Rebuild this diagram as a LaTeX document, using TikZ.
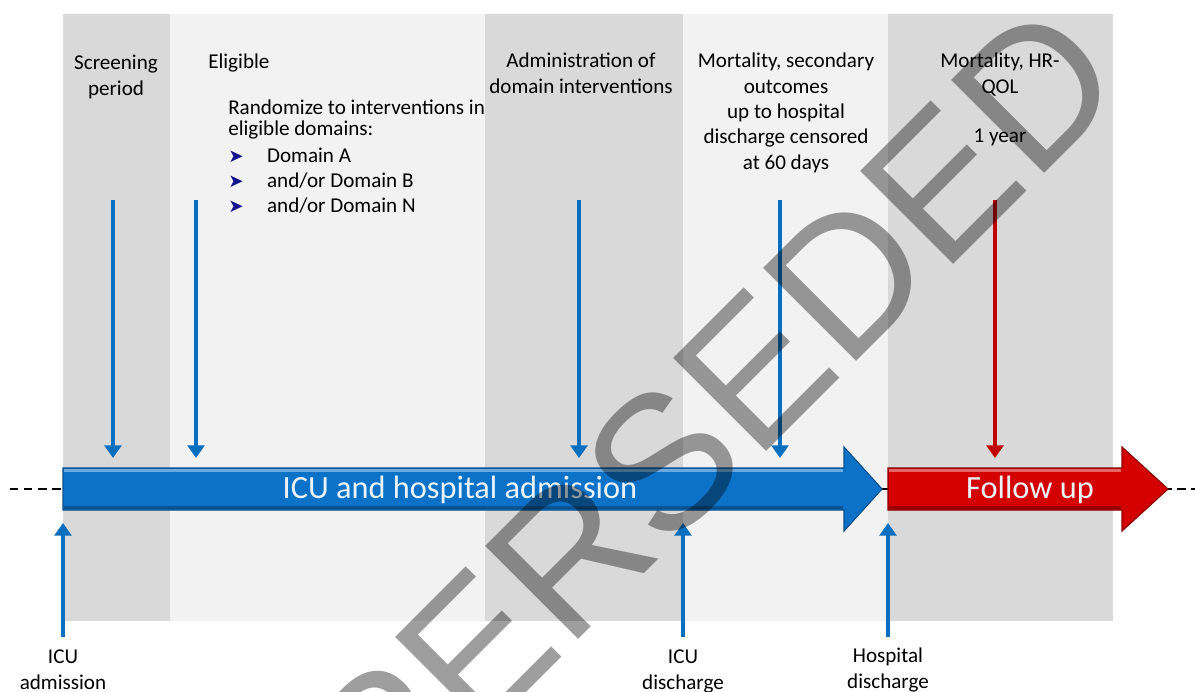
\documentclass[tikz,border=0pt]{standalone}
\usepackage{fontspec}
\setmainfont{Carlito}
\newfontfamily\symfont{DejaVu Sans}
\newfontfamily\wmfont{Liberation Sans}
\usetikzlibrary{arrows.meta}

\definecolor{paneldark}{HTML}{D9D9D9}
\definecolor{panellight}{HTML}{F2F2F2}
\definecolor{icublue}{HTML}{0A6FBE}
\definecolor{barblue}{HTML}{0C72C8}
\definecolor{fured}{HTML}{C00000}
\definecolor{barred}{HTML}{D40000}
\definecolor{navy}{HTML}{12128C}
\definecolor{bartext}{HTML}{EAF3FB}
\newcommand\dombullet{{\symfont\color{navy}\fontsize{13}{13}\selectfont ➤}}

\begin{document}
\begin{tikzpicture}[x=0.025cm,y=-0.025cm,
    lbl/.style={font=\fontsize{15}{18}\selectfont, align=center, inner sep=0pt},
    pointer/.style={line width=2.5pt, -{Triangle[width=12pt,length=9pt]}, icublue},
    bartitle/.style={font=\fontsize{23}{23}\selectfont, text=bartext, inner sep=0pt, anchor=base}]
        \useasboundingbox (0,0) rectangle (1195,691);
        \fill[white] (0,0) rectangle (1195,691);

        % phases
        \fill[paneldark] (63,14) rectangle (170,621);
        \fill[panellight] (170,14) rectangle (485,621);
        \fill[paneldark] (485,14) rectangle (683,621);
        \fill[panellight] (683,14) rectangle (888,621);
        \fill[paneldark] (888,14) rectangle (1113,621);

        \draw[line width=1.2pt, dash pattern=on 6pt off 4pt] (10,489) -- (1195,489);

        % the two big arrows
        \fill[barblue, draw=barblue!70!black, line width=0.8pt]
          (63,468) -- (844,468) -- (844,447) -- (882,489) -- (844,531) -- (844,510) -- (63,510) -- cycle;
        \draw[white, opacity=0.4, line width=1.5pt] (64,470.5) -- (843,470.5);
        \draw[barblue!55!black, opacity=0.6, line width=1.5pt] (64,507.5) -- (843,507.5);
        \fill[barred, draw=barred!65!black, line width=0.8pt]
          (888,468) -- (1122,468) -- (1122,447) -- (1168,489) -- (1122,531) -- (1122,510) -- (888,510) -- cycle;
        \draw[white, opacity=0.4, line width=1.5pt] (889,470.5) -- (1121,470.5);
        \draw[barred!55!black, opacity=0.6, line width=1.5pt] (889,507.5) -- (1121,507.5);
        \node[bartitle] (stay) at (460,498) {ICU and hospital admission};
        \node[bartitle] (follow) at (1030,498) {Follow up};

        % labels above
        \node[lbl, anchor=north] (screen) at (116,55) {Screening\\period};
        \node[lbl, anchor=base west] (elig) at (208,68) {Eligible};
        \node[lbl, align=left, anchor=north west, font=\fontsize{15}{14.5}\selectfont] (rand) at (228,100) {Randomize to interventions in\\eligible domains:};
        \node[lbl, anchor=base west] (doma) at (228,162) {\makebox[27.6pt][l]{\dombullet}Domain A};
        \node[lbl, anchor=base west] (domb) at (228,187) {\makebox[27.6pt][l]{\dombullet}and/or Domain B};
        \node[lbl, anchor=base west] (domn) at (228,212) {\makebox[27.6pt][l]{\dombullet}and/or Domain N};
        \node[lbl, anchor=north] (admin) at (581,53) {Administration of\\domain interventions};
        \node[lbl, anchor=north] (mort) at (786,53) {Mortality, secondary\\outcomes\\up to hospital\\discharge censored\\at 60 days};
        \node[lbl, anchor=north] (hrqol) at (1000,53) {Mortality, HR-\\QOL\\[17pt]1 year};

        % labels below
        \node[lbl, anchor=north] (icuin) at (63,650) {ICU\\admission};
        \node[lbl, anchor=north] (icuout) at (683,650) {ICU\\discharge};
        \node[lbl, anchor=north] (hospout) at (888,648) {Hospital\\discharge};

        \coordinate (screen-a) at (113,200);  \coordinate (screen-b) at (113,458);
        \coordinate (elig-a) at (196,200);    \coordinate (elig-b) at (196,458);
        \coordinate (admin-a) at (579,200);   \coordinate (admin-b) at (579,458);
        \coordinate (mort-a) at (780,200);    \coordinate (mort-b) at (780,458);
        \coordinate (hrqol-a) at (995,200);   \coordinate (hrqol-b) at (995,458);
        \coordinate (icuin-a) at (63,637);    \coordinate (icuin-b) at (63,523);
        \coordinate (icuout-a) at (683,637);  \coordinate (icuout-b) at (683,523);
        \coordinate (hospout-a) at (888,637); \coordinate (hospout-b) at (888,523);

        \draw[pointer] (screen-a) -- (screen-b);
        \draw[pointer] (elig-a) -- (elig-b);
        \draw[pointer] (admin-a) -- (admin-b);
        \draw[pointer] (mort-a) -- (mort-b);
        \draw[pointer, fured] (hrqol-a) -- (hrqol-b);
        \draw[pointer] (icuin-a) -- (icuin-b);
        \draw[pointer] (icuout-a) -- (icuout-b);
        \draw[pointer] (hospout-a) -- (hospout-b);

        \node[rotate=45, anchor=base east, inner sep=0pt, text=black, text opacity=0.38,
          font=\wmfont\fontsize{136}{136}\selectfont] (stamp) at (1131,87) {SUPERSEDED};
      \end{tikzpicture}
\end{document}
